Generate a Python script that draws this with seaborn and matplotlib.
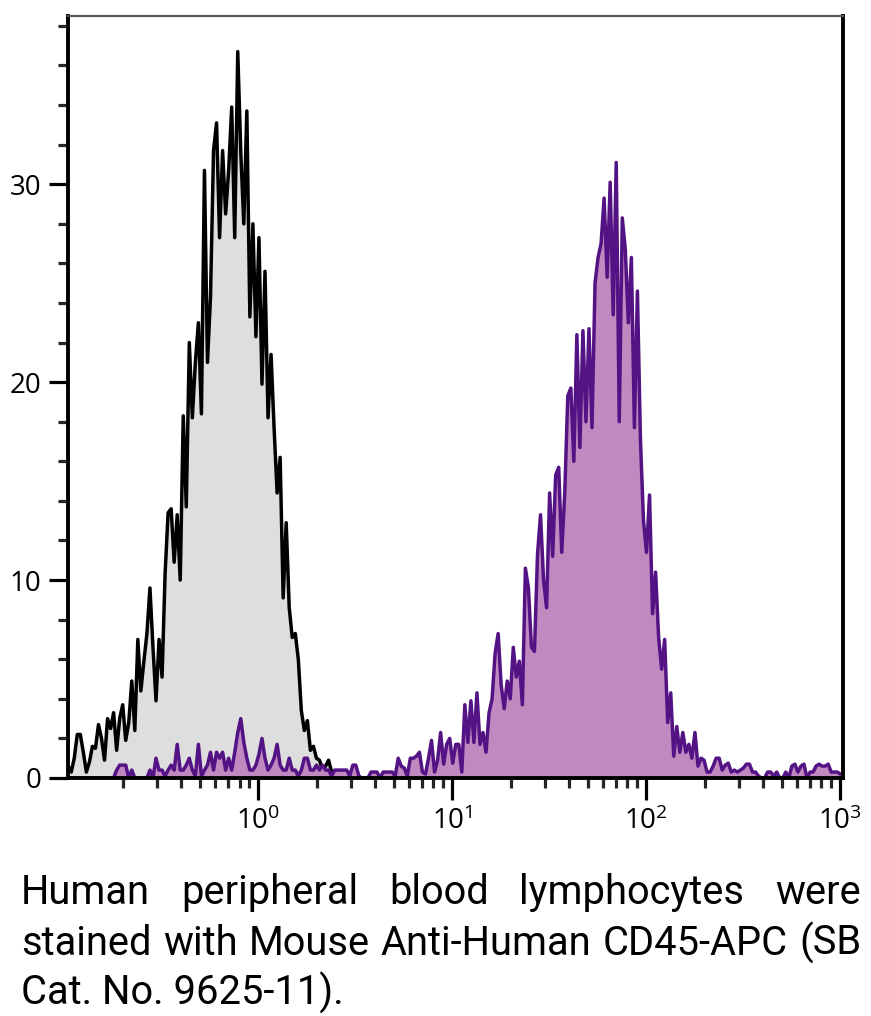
import numpy as np
import matplotlib
matplotlib.use("Agg")
import matplotlib.pyplot as plt
import seaborn as sns
from matplotlib.ticker import MultipleLocator, LogLocator, NullFormatter, FixedLocator

# ---------------- data ----------------
# histogram channel counts on a log axis, 64 channels per decade
channel_log_first = -0.98
channel_log_last = 3.0
n_channels = 256

# isotype control (grey fill, black outline), channels 0..89
control_counts = [
    0.6, 0.3, 1.0, 2.2, 2.2, 1.3, 0.3, 0.8, 1.6, 1.5,
    2.7, 2.0, 0.9, 3.0, 2.5, 3.3, 1.4, 3.0, 3.7, 1.9,
    2.8, 4.9, 2.4, 7.0, 4.4, 5.9, 7.3, 9.6, 6.6, 3.9,
    7.0, 5.1, 10.3, 13.4, 13.6, 10.9, 13.3, 10.0, 18.3, 13.7,
    22.0, 18.2, 21.0, 23.0, 18.4, 30.7, 21.0, 24.3, 31.7, 33.1,
    27.3, 31.7, 28.5, 30.7, 33.9, 27.3, 36.7, 31.6, 28.0, 33.7,
    23.3, 28.0, 22.3, 27.3, 19.9, 25.6, 18.2, 21.4, 17.7, 14.4,
    16.2, 9.1, 12.9, 8.6, 7.1, 7.3, 6.0, 3.4, 2.4, 2.9,
    1.4, 1.6, 1.0, 0.9, 0.4, 0.6, 0.9, 0.3, 0.25, 0.0,
]

# CD45-APC stained sample (purple), channels 0..255
stained_counts = [
    0, 0, 0, 0, 0, 0, 0, 0, 0, 0,
    0, 0, 0, 0, 0, 0, 0.4, 0.65, 0.65, 0.65,
    0, 0.4, 0, 0, 0, 0, 0, 0.4, 0, 1.0,
    0.4, 0.4, 0.1, 0.4, 0.65, 0.4, 1.7, 0.4, 0.4, 0.65,
    1.0, 0.4, 0.1, 1.7, 0.1, 0.4, 0.65, 1.3, 0.4, 1.3,
    1.0, 1.3, 0.4, 1.0, 0.4, 1.3, 2.3, 3.0, 1.8, 1.0,
    0.4, 0.4, 0.65, 1.2, 2.0, 1.0, 0.4, 0.65, 1.0, 1.7,
    0.65, 0.4, 0.4, 1.0, 0.4, 0.4, 0.1, 0.4, 1.0, 1.0,
    0.4, 0.4, 0.65, 0.4, 0.65, 0.4, 0.4, 0.1, 0.4, 0.4,
    0.4, 0.4, 0.4, 0.1, 0.65, 0.65, 0.1, 0, 0, 0,
    0.3, 0.3, 0.3, 0, 0.3, 0.3, 0.3, 0.3, 0.1, 1.0,
    0.6, 0.5, 0.1, 1.0, 1.0, 1.1, 1.3, 0.3, 0.2, 1.0,
    1.9, 0.3, 0.9, 2.3, 0.7, 1.7, 2.0, 0.75, 1.7, 1.7,
    0.3, 3.7, 1.8, 3.9, 1.8, 4.3, 1.7, 2.3, 1.3, 3.3,
    4.0, 6.3, 7.3, 4.7, 3.5, 4.9, 4.0, 6.6, 5.1, 5.9,
    3.7, 10.6, 9.6, 6.6, 6.4, 11.3, 13.3, 10.0, 8.6, 14.4,
    11.2, 15.3, 15.7, 11.4, 14.4, 19.3, 19.7, 16.0, 22.4, 16.7,
    22.6, 18.0, 22.7, 17.7, 25.0, 26.3, 27.0, 29.3, 25.3, 30.1,
    23.4, 31.1, 18.0, 28.3, 26.7, 23.0, 26.3, 17.7, 24.6, 17.1,
    13.0, 11.4, 14.3, 8.3, 10.4, 7.1, 5.5, 7.0, 2.8, 4.3,
    1.1, 2.6, 1.3, 2.3, 1.3, 1.7, 1.0, 2.3, 0.6, 1.0,
    0.9, 0.3, 0.3, 0.6, 1.0, 1.0, 0.4, 0.65, 0.75, 0.3,
    0.4, 0.3, 0.4, 0.5, 0.7, 0.7, 0.3, 0.3, 0.1, 0,
    0, 0.3, 0.3, 0.1, 0.3, 0, 0, 0.3, 0, 0.6,
    0.7, 0.3, 0.6, 0.7, 0, 0.3, 0.3, 0.6, 0.7, 0.6,
    0.6, 0.7, 0.3, 0.3, 0.3, 0.2,
]

y_major_ticks = [0, 10, 20, 30]
x_major_ticks = [1, 10, 100, 1000]
x_tick_labels = ["$10^{0}$", "$10^{1}$", "$10^{2}$", "$10^{3}$"]
x_limits = (10 ** -0.981, 10 ** 3.014)
y_limits = (0, 38.5)

caption_lines = [
    "Human peripheral blood lymphocytes were",
    "stained with Mouse Anti-Human CD45-APC (SB",
    "Cat. No. 9625-11).",
]

# ---------------- style ----------------
sns.set_theme(style="ticks")
plt.rcParams["font.family"] = ["Open Sans", "DejaVu Sans"]
plt.rcParams["mathtext.fontset"] = "custom"
plt.rcParams["mathtext.rm"] = "Open Sans"
plt.rcParams["mathtext.it"] = "Open Sans:italic"
plt.rcParams["mathtext.bf"] = "Open Sans:bold"

W, H = 871, 1016
fig = plt.figure(figsize=(W / 100, H / 100), dpi=100)
fig.patch.set_facecolor("white")
ax = fig.add_axes([68 / W, 238 / H, (843 - 68) / W, (1000 - 238) / H])
ax.set_facecolor("white")
ax.set_xscale("log")

channels = np.logspace(channel_log_first, channel_log_last, n_channels)
x_ctrl = channels[:len(control_counts)]

LINE_W = 2.5
ax.fill_between(x_ctrl, control_counts, 0, color="#dedede", lw=0, zorder=1)
sns.lineplot(x=x_ctrl, y=control_counts, ax=ax, color="black", linewidth=LINE_W,
             estimator=None, sort=False, zorder=2)
ax.fill_between(channels, stained_counts, 0, color="#c08ac1", lw=0, zorder=3)
sns.lineplot(x=channels, y=stained_counts, ax=ax, color="#541384", linewidth=LINE_W,
             estimator=None, sort=False, zorder=4)
for ln in ax.lines:
    ln.set_linewidth(LINE_W)
    ln.set_solid_joinstyle("round")

ax.set_xlim(*x_limits)
ax.set_ylim(*y_limits)
ax.set_xlabel("")
ax.set_ylabel("")

ax.xaxis.set_major_locator(FixedLocator(x_major_ticks))
ax.set_xticklabels(x_tick_labels)
ax.xaxis.set_minor_locator(LogLocator(base=10, subs=np.arange(2, 10)))
ax.xaxis.set_minor_formatter(NullFormatter())
ax.yaxis.set_major_locator(FixedLocator(y_major_ticks))
ax.yaxis.set_minor_locator(MultipleLocator(2))

ax.tick_params(axis="both", which="major", direction="out", color="black",
               labelcolor="black", labelsize=20)
ax.tick_params(axis="y", which="major", length=14, width=2.3, pad=5)
ax.tick_params(axis="y", which="minor", length=7, width=2.3)
ax.tick_params(axis="x", which="major", length=16, width=2.3, pad=5)
ax.tick_params(axis="x", which="minor", length=7, width=2.3)

for side in ["left", "bottom", "right"]:
    ax.spines[side].set_color("black")
    ax.spines[side].set_linewidth(2.8)
    ax.spines[side].set_zorder(6)
ax.spines["top"].set_color("#555555")
ax.spines["top"].set_linewidth(1.6)
ax.spines["top"].set_zorder(6)

# ---------------- justified caption ----------------
fig.canvas.draw()
renderer = fig.canvas.get_renderer()
left_px, right_px = 21, 861
baselines = [904, 955, 1005]
CAPTION_FONT = ["Roboto", "DejaVu Sans"]


def text_width(s, fs):
    t = fig.text(0, 0, s, fontsize=fs, family=CAPTION_FONT)
    w = t.get_window_extent(renderer).width
    t.remove()
    return w

# choose a font size so the widest full line fits with ordinary spaces
fs = 26.0
natural = text_width(caption_lines[1], fs)
fs = fs * 834.0 / natural

for i, line in enumerate(caption_lines):
    yb = 1 - baselines[i] / H
    if i == len(caption_lines) - 1:
        fig.text(left_px / W, yb, line, fontsize=fs, va="baseline", ha="left",
                 color="black", family=CAPTION_FONT)
        continue
    words = line.split()
    widths = [text_width(w_, fs) for w_ in words]
    gap = (right_px - left_px - sum(widths)) / (len(words) - 1)
    x = left_px
    for w_, wd in zip(words, widths):
        fig.text(x / W, yb, w_, fontsize=fs, va="baseline", ha="left",
                 color="black", family=CAPTION_FONT)
        x += wd + gap

fig.savefig("out.png", dpi=100, facecolor="white")
